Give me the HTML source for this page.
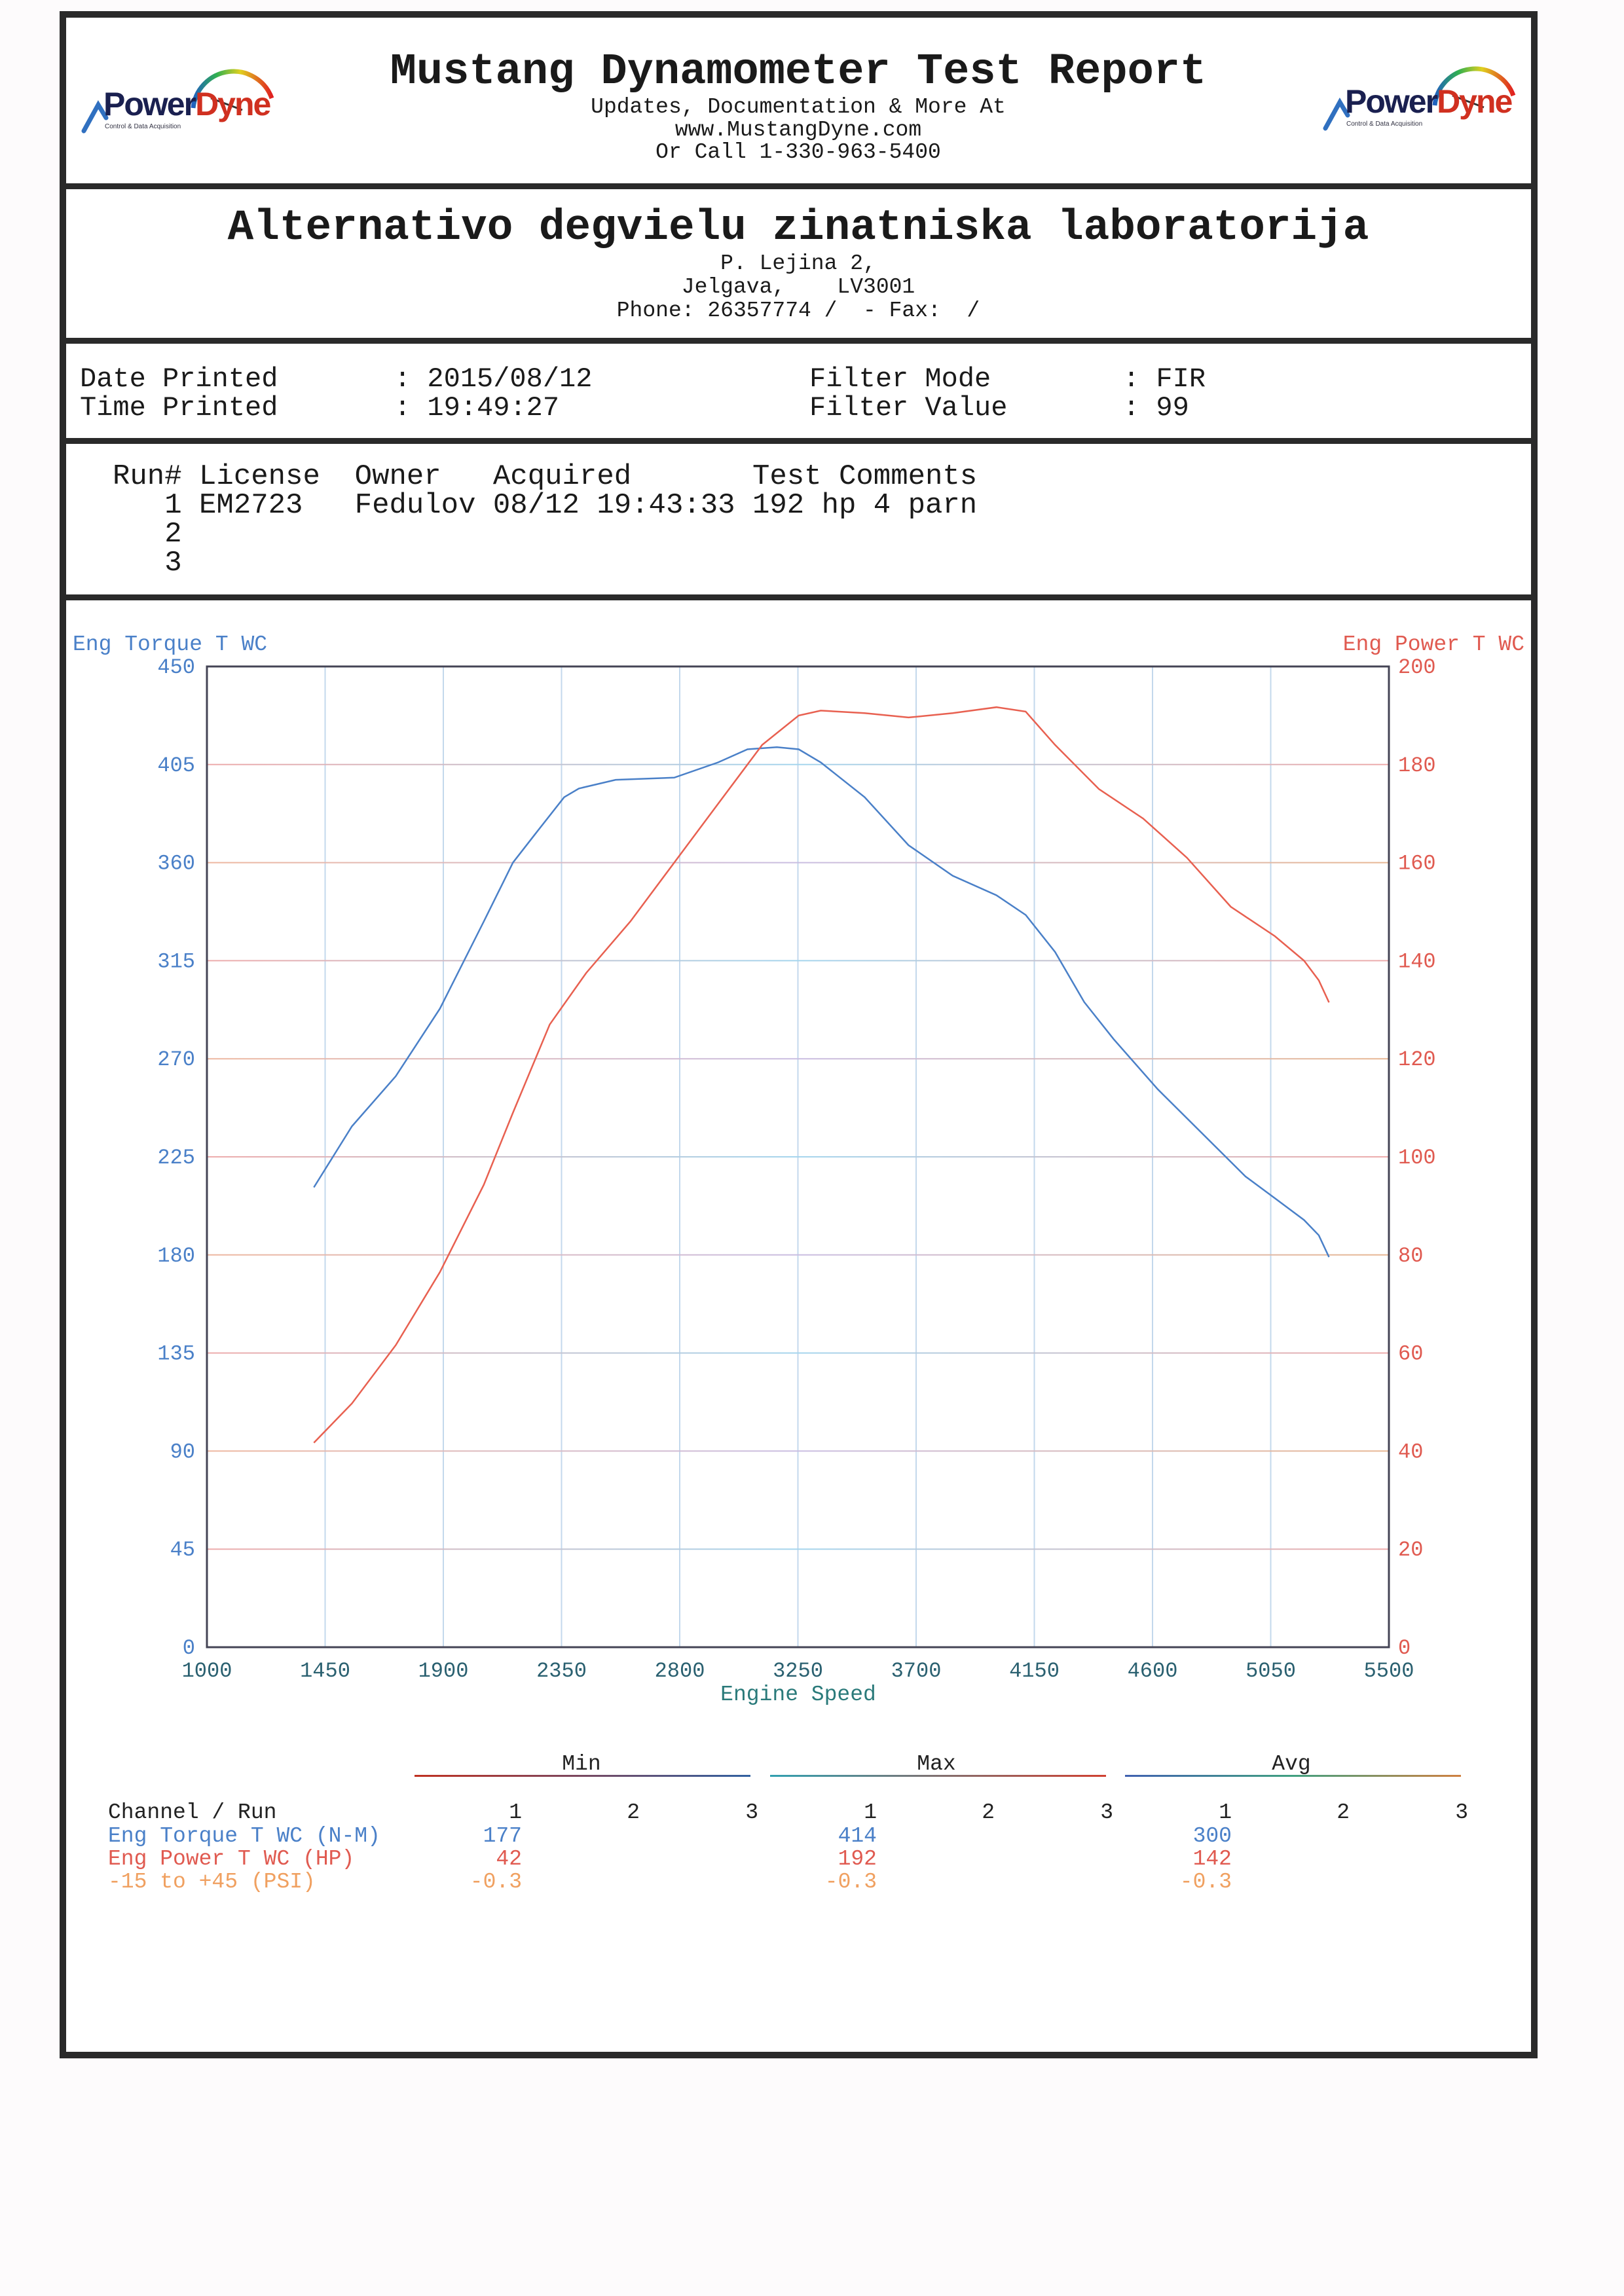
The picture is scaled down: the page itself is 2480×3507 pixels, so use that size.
<!DOCTYPE html>
<html><head><meta charset="utf-8"><style>
html,body{margin:0;padding:0;background:#fdfbfc;}
svg{display:block}
text{font-family:"Liberation Mono",monospace;white-space:pre;}
</style></head><body>
<svg id="s" width="2480" height="3507" viewBox="0 0 2480 3507" xmlns="http://www.w3.org/2000/svg">
<defs>
<linearGradient id="gh1" gradientUnits="userSpaceOnUse" x1="316" x2="2121" y1="0" y2="0"><stop offset="0" stop-color="#e8a080"/><stop offset="0.5" stop-color="#b8a8d8"/><stop offset="1" stop-color="#e0a070"/></linearGradient>
<linearGradient id="gh2" gradientUnits="userSpaceOnUse" x1="316" x2="2121" y1="0" y2="0"><stop offset="0" stop-color="#e89090"/><stop offset="0.5" stop-color="#88c8e8"/><stop offset="1" stop-color="#e89090"/></linearGradient>
<linearGradient id="gm" x1="0" x2="1"><stop offset="0" stop-color="#c03020"/><stop offset="1" stop-color="#3060a0"/></linearGradient>
<linearGradient id="gx" x1="0" x2="1"><stop offset="0" stop-color="#30a0b0"/><stop offset="1" stop-color="#d04030"/></linearGradient>
<linearGradient id="ga" x1="0" x2="1"><stop offset="0" stop-color="#4060b0"/><stop offset="0.5" stop-color="#40a080"/><stop offset="1" stop-color="#d08040"/></linearGradient>
<linearGradient id="gauge" x1="0" x2="1"><stop offset="0" stop-color="#2060c0"/><stop offset="0.3" stop-color="#30b050"/><stop offset="0.6" stop-color="#e0d020"/><stop offset="1" stop-color="#e02020"/></linearGradient>
</defs>
<rect width="2480" height="3507" fill="#fdfbfc"/>
<rect x="96" y="22" width="2247" height="3117" fill="#fff" stroke="#2a2a2a" stroke-width="10"/>
<g fill="#2a2a2a">
<rect x="96" y="280" width="2247" height="9"/>
<rect x="96" y="516" width="2247" height="9"/>
<rect x="96" y="669" width="2247" height="9"/>
<rect x="96" y="908" width="2247" height="9"/>
</g>
<g id="logo1">
<path d="M295 165 A62 62 0 0 1 415 150" fill="none" stroke="url(#gauge)" stroke-width="7"/>
<line x1="322" y1="150" x2="370" y2="168" stroke="#333" stroke-width="3"/>
<path d="M128 200 L150 160 L162 180" fill="none" stroke="#3070c0" stroke-width="7" stroke-linecap="round"/>
<text x="158" y="176" style="font-family:'Liberation Sans',sans-serif;font-weight:bold;font-size:50px;letter-spacing:-2px" fill="#1a2050">Power<tspan fill="#d03020">Dyne</tspan></text>
<text x="160" y="196" style="font-family:'Liberation Sans',sans-serif;font-size:10px" fill="#334">Control &amp; Data Acquisition</text>
</g>
<use href="#logo1" transform="translate(1896,-4)"/>
<g fill="#1a1a1a" text-anchor="middle">
<text x="1219" y="127" font-size="67" font-weight="bold">Mustang Dynamometer Test Report</text>
<text x="1219" y="172" font-size="33">Updates, Documentation &amp; More At</text>
<text x="1219" y="207" font-size="33">www.MustangDyne.com</text>
<text x="1219" y="241" font-size="33">Or Call 1-330-963-5400</text>
<text x="1219" y="365" font-size="66" font-weight="bold">Alternativo degvielu zinatniska laboratorija</text>
<text x="1219" y="411" font-size="33">P. Lejina 2,</text>
<text x="1219" y="447" font-size="33">Jelgava,    LV3001</text>
<text x="1219" y="483" font-size="33">Phone: 26357774 /  - Fax:  /</text>
</g>
<g fill="#1a1a1a" font-size="42">
<text x="122" y="590">Date Printed</text>
<text x="122" y="634">Time Printed</text>
<text x="602" y="590">: 2015/08/12</text>
<text x="602" y="634">: 19:49:27</text>
<text x="1236" y="590">Filter Mode</text>
<text x="1236" y="634">Filter Value</text>
<text x="1715" y="590">: FIR</text>
<text x="1715" y="634">: 99</text>
</g>
<g fill="#1a1a1a" font-size="44">
<text x="172" y="739">Run# License  Owner   Acquired       Test Comments</text>
<text x="172" y="783">   1 EM2723   Fedulov 08/12 19:43:33 192 hp 4 parn</text>
<text x="172" y="827">   2</text>
<text x="172" y="871">   3</text>
</g>
<g id="grid" opacity="0.75"></g>
<rect x="316" y="1018" width="1805" height="1498" fill="none" stroke="#445" stroke-width="3"/>
<text x="111" y="993" font-size="33" fill="#4a80c8">Eng Torque T WC</text>
<text x="2328" y="993" font-size="33" fill="#e05a50" text-anchor="end">Eng Power T WC</text>
<g id="lab"></g>
<text x="1219" y="2597" font-size="33" fill="#2a7a7a" text-anchor="middle">Engine Speed</text>
<path id="tq" fill="none" stroke="#4a80c8" stroke-width="2.5"/>
<path id="pw" fill="none" stroke="#e86050" stroke-width="2.5"/>
<rect x="633" y="2711" width="513" height="3" fill="url(#gm)"/>
<rect x="1176" y="2711" width="513" height="3" fill="url(#gx)"/>
<rect x="1718" y="2711" width="513" height="3" fill="url(#ga)"/>
<g font-size="33" fill="#222" text-anchor="middle">
<text x="888" y="2703">Min</text><text x="1430" y="2703">Max</text><text x="1972" y="2703">Avg</text>
</g>
<text x="165" y="2777" font-size="33" fill="#222">Channel / Run</text>
<text x="165" y="2813" font-size="33" fill="#4a80c8">Eng Torque T WC (N-M)</text>
<text x="165" y="2848" font-size="33" fill="#e05a50">Eng Power T WC (HP)</text>
<text x="165" y="2883" font-size="33" fill="#f0a060">-15 to +45 (PSI)</text>
<g font-size="33" text-anchor="end">
<g fill="#222">
<text x="797" y="2777">1</text><text x="977" y="2777">2</text><text x="1158" y="2777">3</text>
<text x="1339" y="2777">1</text><text x="1519" y="2777">2</text><text x="1700" y="2777">3</text>
<text x="1881" y="2777">1</text><text x="2061" y="2777">2</text><text x="2242" y="2777">3</text>
</g>
<text x="797" y="2813" fill="#4a80c8">177</text><text x="1339" y="2813" fill="#4a80c8">414</text><text x="1881" y="2813" fill="#4a80c8">300</text>
<text x="797" y="2848" fill="#e05a50">42</text><text x="1339" y="2848" fill="#e05a50">192</text><text x="1881" y="2848" fill="#e05a50">142</text>
<text x="797" y="2883" fill="#f0a060">-0.3</text><text x="1339" y="2883" fill="#f0a060">-0.3</text><text x="1881" y="2883" fill="#f0a060">-0.3</text>
</g>
</svg>
<script>
(function(){
var NS="http://www.w3.org/2000/svg";
function X(r){return 316+(r-1000)*1805/4500;}
function YT(t){return 2516-t*1498/450;}
function YP(p){return 2516-p*1498/200;}
var g=document.getElementById('grid'),lab=document.getElementById('lab');
function el(n,a,p,t){var e=document.createElementNS(NS,n);for(var k in a)e.setAttribute(k,a[k]);if(t!=null)e.textContent=t;p.appendChild(e);return e;}
for(var i=1;i<10;i++){var r=1000+i*450;var x=X(r);el('line',{x1:x,x2:x,y1:1018,y2:2516,stroke:'#b0cce6','stroke-width':2},g);}
for(var j=1;j<10;j++){var y=YT(j*45);el('line',{x1:316,x2:2121,y1:y,y2:y,stroke:(j%2?'url(#gh2)':'url(#gh1)'),'stroke-width':2},g);}
for(var i=0;i<=10;i++){var r=1000+i*450;el('text',{x:X(r),y:2561,'font-size':32,fill:'#2a6070','text-anchor':'middle'},lab,String(r));}
for(var j=0;j<=10;j++){var y=YT(j*45);el('text',{x:298,y:y+10,'font-size':32,fill:'#4a80c8','text-anchor':'end'},lab,String(j*45));
el('text',{x:2135,y:y+10,'font-size':32,fill:'#e05a50'},lab,String(j*20));}
var T=[[1407,211],[1552,239],[1719,262],[1887,293],[2054,333],[2165,360],[2249,373],[2360,390],[2416,394],[2556,398],[2779,399],[2946,406],[3058,412],[3170,413],[3253,412],[3337,406],[3504,390],[3671,368],[3839,354],[4006,345],[4117,336],[4229,319],[4340,296],[4452,279],[4620,256],[4787,236],[4954,216],[5066,206],[5177,196],[5233,189],[5272,179]];
var P=[[1407,41.7],[1552,49.7],[1719,61.6],[1887,76.5],[2054,94.3],[2165,109],[2305,127],[2444,137.5],[2612,148],[2779,160],[2946,172],[3114,184],[3253,190],[3337,191],[3504,190.5],[3671,189.6],[3839,190.5],[4006,191.7],[4117,190.8],[4229,184],[4396,175],[4564,169],[4731,161],[4898,151],[5066,145],[5177,140],[5233,136],[5272,131.5]];
function path(a,f){var d='';for(var i=0;i<a.length;i++){d+=(i?'L':'M')+X(a[i][0]).toFixed(1)+' '+f(a[i][1]).toFixed(1);}return d;}
document.getElementById('tq').setAttribute('d',path(T,YT));
document.getElementById('pw').setAttribute('d',path(P,YP));
})();
</script>
</body></html>
